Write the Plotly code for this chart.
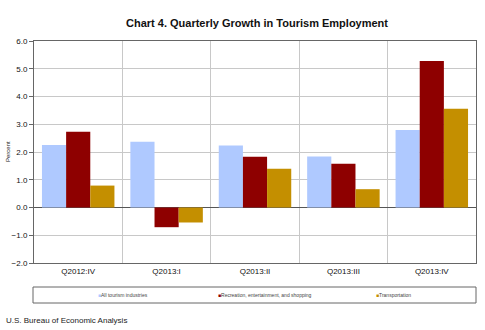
import plotly.graph_objects as go

categories = ["Q2012:IV", "Q2013:I", "Q2013:II", "Q2013:III", "Q2013:IV"]
all_tourism = [2.25, 2.37, 2.23, 1.84, 2.79]
recreation = [2.73, -0.71, 1.83, 1.58, 5.28]
transportation = [0.79, -0.54, 1.40, 0.66, 3.56]
series_names = ["All tourism industries", "Recreation, entertainment, and shopping", "Transportation"]
colors = ["#AFC9FF", "#8E0000", "#C48F00"]
y_ticks = [-2, -1, 0, 1, 2, 3, 4, 5, 6]

FONT = "Liberation Sans, Arial, sans-serif"
W, H = 485, 330
L, R, T, B = 34, 9, 41, 67
pw, ph = W - L - R, H - T - B

def px_x(x):
    return (x - L) / pw

def px_y(y):
    return (H - B - y) / ph

fig = go.Figure()
for name, vals, col in zip(series_names, [all_tourism, recreation, transportation], colors):
    fig.add_trace(go.Bar(x=categories, y=vals, name=name, marker=dict(color=col, line=dict(width=0)),
                         showlegend=False))

# legend box
fig.add_shape(type="rect", xref="paper", yref="paper", x0=px_x(33), x1=px_x(476), y0=px_y(303), y1=px_y(287),
              line=dict(color="#666666", width=1), fillcolor="white")
legend_x = [96, 216, 374]
for name, col, lx in zip(series_names, colors, legend_x):
    fig.add_annotation(xref="paper", yref="paper", x=px_x(lx), y=px_y(295), xanchor="left", yanchor="middle",
                       showarrow=False,
                       text=f'<span style="color:{col}">■</span>{name}',
                       font=dict(family=FONT, size=5, color="#444444"))

fig.add_annotation(xref="paper", yref="paper", x=px_x(4), y=px_y(320), xanchor="left", yanchor="middle",
                   showarrow=False, text="U.S. Bureau of Economic Analysis",
                   font=dict(family=FONT, size=8, color="#222222"))

fig.add_annotation(xref="paper", yref="paper", x=px_x(257), y=px_y(23), xanchor="center", yanchor="middle",
                   showarrow=False, text="<b>Chart 4. Quarterly Growth in Tourism Employment</b>",
                   font=dict(family=FONT, size=11, color="#111111"))

fig.add_annotation(xref="paper", yref="paper", x=px_x(8), y=px_y(152), xanchor="center", yanchor="middle",
                   showarrow=False, text="Percent", textangle=-90,
                   font=dict(family=FONT, size=6, color="#222222"))

fig.update_layout(
    width=W, height=H,
    margin=dict(l=L, r=R, t=T, b=B, autoexpand=False),
    paper_bgcolor="white", plot_bgcolor="white",
    barmode="group", bargap=0.18, bargroupgap=0,
    font=dict(family=FONT, size=8, color="#222222"),
)
fig.update_xaxes(automargin=False, tickson="boundaries", showgrid=True, gridcolor="#C8C8C8", gridwidth=1,
                 showline=True, linecolor="#666666", linewidth=1, mirror=True,
                 ticks="", tickfont=dict(size=8, color="#111111"))
fig.update_yaxes(automargin=False, range=[-2, 6], tickvals=y_ticks, tickformat=".1f", showgrid=True,
                 gridcolor="#C8C8C8", gridwidth=1, zeroline=True, zerolinecolor="#555555", zerolinewidth=1,
                 showline=True, linecolor="#666666", linewidth=1, mirror=True,
                 ticks="outside", ticklen=4, tickcolor="#666666",
                 tickfont=dict(size=8, color="#111111"))

fig.write_html("out.html", config={"displayModeBar": False},
               post_script="document.body.style.margin='0';document.body.style.overflow='hidden';")
